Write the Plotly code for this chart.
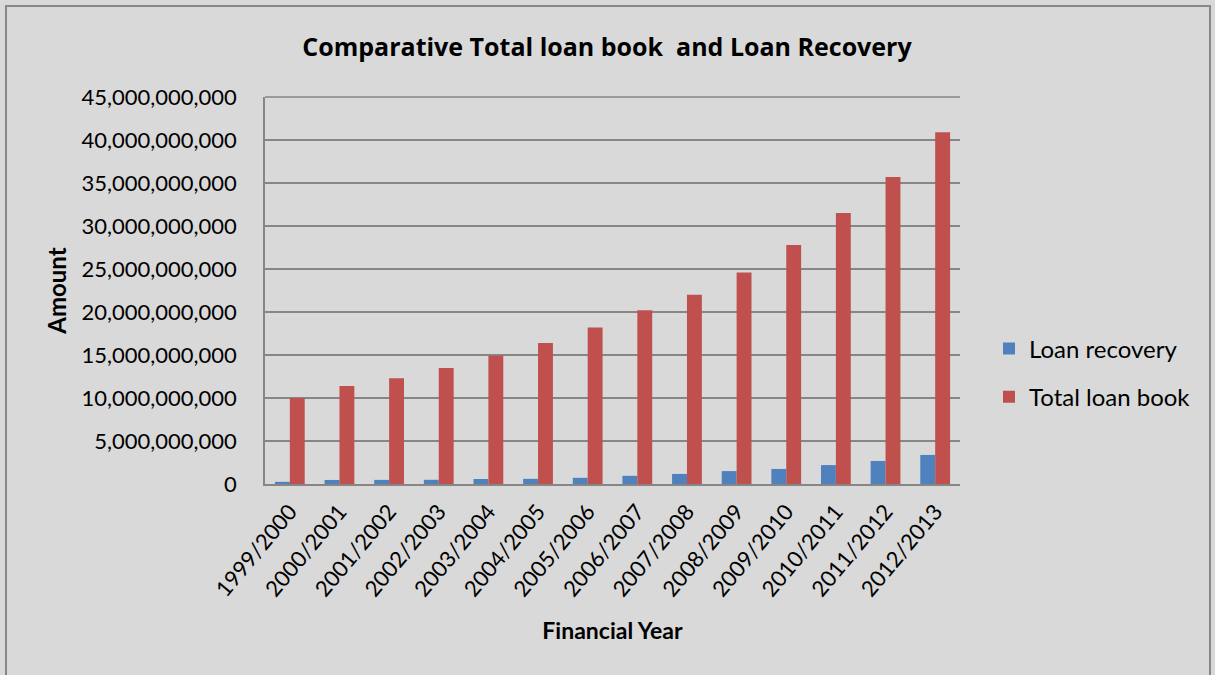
import plotly.graph_objects as go

years = ["1999/2000", "2000/2001", "2001/2002", "2002/2003", "2003/2004", "2004/2005",
         "2005/2006", "2006/2007", "2007/2008", "2008/2009", "2009/2010", "2010/2011",
         "2011/2012", "2012/2013"]
loan_recovery = [0.25e9, 0.47e9, 0.48e9, 0.49e9, 0.58e9, 0.6e9, 0.72e9, 0.95e9,
                 1.17e9, 1.5e9, 1.75e9, 2.2e9, 2.68e9, 3.38e9]
total_loan_book = [10.0e9, 11.4e9, 12.3e9, 13.5e9, 14.9e9, 16.4e9, 18.2e9, 20.2e9,
                   22.0e9, 24.6e9, 27.8e9, 31.5e9, 35.7e9, 40.9e9]
y_ticks = list(range(0, 45000000001, 5000000000))

FONT = "Lato"
BG = "#d9d9d9"
L, R, T, B = 265, 255, 97, 191
W, H = 1215, 675
pw, ph = W - L - R, H - T - B

fig = go.Figure()
fig.add_trace(go.Bar(name="Loan recovery", x=years, y=loan_recovery, legendgroup="a",
                     marker=dict(color="#4f81bd", line=dict(width=0))))
fig.add_trace(go.Bar(name="Total loan book", x=years, y=total_loan_book, legendgroup="b",
                     marker=dict(color="#c0504d", line=dict(width=0))))

def px(x):
    return (x - L) / pw

def py(y):
    return (H - B - y) / ph

fig.add_shape(type="rect", xref="paper", yref="paper",
              x0=px(6), x1=px(1210), y0=py(6), y1=py(700),
              line=dict(color="#888888", width=2), fillcolor="rgba(0,0,0,0)", layer="below")

fig.update_layout(
    width=W, height=H,
    margin=dict(l=L, r=R, t=T, b=B, pad=0),
    paper_bgcolor=BG, plot_bgcolor=BG,
    barmode="group", bargap=0.4, bargroupgap=0,
    font=dict(family=FONT, size=22, color="#000000"),
    title=dict(text="<b>Comparative Total loan book  and Loan Recovery</b>",
               x=607 / W, xanchor="center", y=1 - 47 / H, yanchor="middle",
               font=dict(family="Open Sans", size=25, color="#000000")),
    showlegend=True,
    legend=dict(x=px(989), xanchor="left", y=py(373), yanchor="middle",
                bgcolor="rgba(0,0,0,0)", font=dict(family=FONT, size=24),
                itemwidth=30, tracegroupgap=14, traceorder="grouped"),
    xaxis=dict(tickangle=-50, showline=True, linecolor="#868686", linewidth=2,
               ticks="", ticklabelstandoff=4,
               tickfont=dict(family=FONT, size=22),
               title=dict(text="<b>Financial Year</b>", standoff=22,
                          font=dict(family=FONT, size=23))),
    yaxis=dict(range=[0, 45e9], tickvals=y_ticks,
               ticktext=[f"{v:,}" for v in y_ticks],
               showgrid=True, gridcolor="#868686", gridwidth=1.5,
               showline=True, linecolor="#868686", linewidth=1.5, mirror=False,
               zeroline=False, ticks="", ticklabelstandoff=22,
               tickfont=dict(family=FONT, size=22),
               title=dict(text="<b>Amount</b>", standoff=8,
                          font=dict(family=FONT, size=24))),
)
fig.add_shape(type="line", xref="paper", yref="paper", x0=0, x1=1, y0=1, y1=1,
              line=dict(color="#868686", width=1.5))

fig.write_html("out.html")
